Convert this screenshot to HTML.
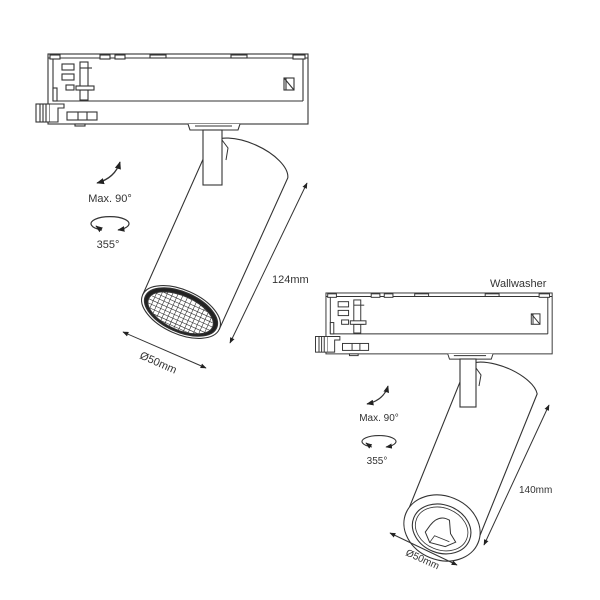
<!DOCTYPE html>
<html><head><meta charset="utf-8"><style>
html,body{margin:0;padding:0;background:#fff}
svg{display:block}
text{font-family:"Liberation Sans",sans-serif;fill:#333}
</style></head><body>
<svg width="600" height="600" viewBox="0 0 600 600" xmlns="http://www.w3.org/2000/svg">
<defs>
<marker id="ar" viewBox="0 0 10 10" refX="9" refY="5" markerWidth="6" markerHeight="6" orient="auto-start-reverse"><path d="M0,1 L10,5 L0,9 z" fill="#222"/></marker>
<g id="adapter" fill="#fff" stroke="#333" stroke-width="1.1">
  <rect x="48" y="54" width="260" height="70"/>
  <line x1="48" y1="58" x2="308" y2="58"/>
  <line x1="53" y1="58" x2="53" y2="101"/>
  <line x1="303" y1="58" x2="303" y2="101"/>
  <line x1="53" y1="101" x2="303" y2="101"/>
  <rect x="50" y="55" width="10" height="4"/><rect x="100" y="55" width="10" height="4"/><rect x="115" y="55" width="10" height="4"/>
  <rect x="150" y="55" width="16" height="3"/><rect x="231" y="55" width="16" height="3"/><rect x="293" y="55" width="12" height="4"/>
  <rect x="62" y="64" width="12" height="6"/><rect x="62" y="74" width="12" height="6"/><rect x="66" y="85" width="8" height="5"/>
  <rect x="80" y="62" width="8" height="38"/><line x1="80" y1="68" x2="92" y2="68"/><line x1="80" y1="90" x2="92" y2="90"/>
  <rect x="76" y="86" width="18" height="4"/>
  <rect x="53" y="88" width="4" height="13"/>
  <rect x="36" y="104" width="14" height="18"/><line x1="40" y1="104" x2="40" y2="122"/><line x1="43" y1="104" x2="43" y2="122"/><line x1="46" y1="104" x2="46" y2="122"/>
  <path d="M50,104 L64,104 L64,108 L58,108 L58,122 L50,122"/>
  <rect x="67" y="112" width="30" height="8"/><line x1="78" y1="112" x2="78" y2="120"/><line x1="87" y1="112" x2="87" y2="120"/>
  <rect x="75" y="124" width="10" height="2"/>
  <rect x="284" y="78" width="10" height="12"/><line x1="284" y1="78" x2="294" y2="90"/><line x1="286" y1="78" x2="286" y2="90"/>
  <path d="M188,124 L190,130 L238,130 L240,124"/>
  <line x1="195" y1="126" x2="232" y2="126"/>
</g>
</defs>

<!-- Unit 1 -->
<use href="#adapter"/>
<g transform="translate(181,312) rotate(24)" stroke="#333" stroke-width="1.1" fill="#fff">
  <path d="M-42,0 L-42,-166 A43,20 0 0 1 43,-166 L42,0 Z"/>
  <ellipse cx="0" cy="0" rx="42" ry="22"/>
  <ellipse cx="0" cy="0" rx="39" ry="20" fill="#222"/>
  <ellipse cx="0" cy="1" rx="35" ry="17" fill="#fff"/>
  <g stroke-width="0.6" fill="none">
    <path d="M-24,-11 L24,-11 M-30,-7 L30,-7 M-33,-3 L33,-3 M-35,1 L35,1 M-34,5 L34,5 M-31,9 L31,9 M-26,13 L26,13 M-16,16 L16,16"/>
    <path d="M-30,-9 L-30,12 M-25,-12 L-25,15 M-20,-14 L-20,16 M-15,-15 L-15,17 M-10,-16 L-10,18 M-5,-16 L-5,18 M0,-16 L0,18 M5,-16 L5,18 M10,-16 L10,18 M15,-15 L15,17 M20,-14 L20,16 M25,-12 L25,15 M30,-9 L30,12"/>
  </g>
</g>
<rect x="203" y="130" width="19" height="55" fill="#fff" stroke="#333" stroke-width="1.1"/>
<path d="M222,140 L228,148 L226,160" fill="none" stroke="#333" stroke-width="1"/>
<line x1="307" y1="183" x2="230" y2="343" stroke="#333" stroke-width="1" marker-start="url(#ar)" marker-end="url(#ar)"/>
<text x="272" y="283" font-size="11">124mm</text>
<line x1="123" y1="332" x2="206" y2="368" stroke="#333" stroke-width="1" marker-start="url(#ar)" marker-end="url(#ar)"/>
<text x="0" y="0" font-size="11" transform="translate(139,358) rotate(24)">Ø50mm</text>
<path d="M97,183 Q115,178 120,162" fill="none" stroke="#333" stroke-width="1.3" marker-start="url(#ar)" marker-end="url(#ar)"/>
<text x="110" y="202" font-size="11" text-anchor="middle">Max. 90°</text>
<path d="M102,230 A19,7 0 1 1 118,230" fill="none" stroke="#333" stroke-width="1.2" marker-end="url(#ar)"/>
<path d="M100,229 L96,226" stroke="#333" stroke-width="1.2" marker-end="url(#ar)"/>
<text x="108" y="248" font-size="11" text-anchor="middle">355°</text>

<!-- Unit 2 -->
<text x="490" y="287" font-size="11">Wallwasher</text>
<use href="#adapter" transform="translate(284.2,246) scale(0.87)"/>
<g transform="translate(442,528) rotate(22)" stroke="#333" stroke-width="1.1" fill="#fff">
  <path d="M-38,0 L-38,-150 A38,17 0 0 1 38,-160 L38,0 Z"/>
  <ellipse cx="0" cy="0" rx="39" ry="32"/>
  <ellipse cx="0" cy="1" rx="30" ry="24"/>
  <ellipse cx="0" cy="1" rx="27" ry="21" stroke-width="0.8"/>
  <path d="M-14,10 L-6,18 L10,16 L18,8 L10,2 L4,-10 Q-8,-12 -12,2 Z" stroke-width="1"/>
  <path d="M-6,18 L-4,10 L12,10" fill="none" stroke-width="0.8"/>
</g>
<rect x="460" y="359" width="16" height="48" fill="#fff" stroke="#333" stroke-width="1.1"/>
<path d="M476,368 L481,375 L479,386" fill="none" stroke="#333" stroke-width="1"/>
<line x1="549" y1="405" x2="484" y2="545" stroke="#333" stroke-width="1" marker-start="url(#ar)" marker-end="url(#ar)"/>
<text x="519" y="493" font-size="10">140mm</text>
<line x1="390" y1="533" x2="457" y2="565" stroke="#333" stroke-width="1" marker-start="url(#ar)" marker-end="url(#ar)"/>
<text x="0" y="0" font-size="10" transform="translate(405,555) rotate(24)">Ø50mm</text>
<path d="M367,404 Q384,400 388,386" fill="none" stroke="#333" stroke-width="1.2" marker-start="url(#ar)" marker-end="url(#ar)"/>
<text x="379" y="421" font-size="10" text-anchor="middle">Max. 90°</text>
<path d="M372,447 A17,6 0 1 1 386,447" fill="none" stroke="#333" stroke-width="1.1" marker-end="url(#ar)"/>
<path d="M370,446 L366,443" stroke="#333" stroke-width="1.1" marker-end="url(#ar)"/>
<text x="377" y="464" font-size="10" text-anchor="middle">355°</text>
</svg>
</body></html>
